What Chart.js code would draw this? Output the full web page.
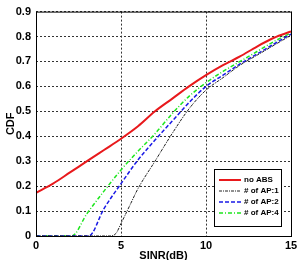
<!DOCTYPE html>
<html>
<head>
<meta charset="UTF-8">
<title>CDF of SINR</title>
<script src="https://cdn.jsdelivr.net/npm/chart.js"></script>
<style>
  body { margin: 0; background: #fff; }
</style>
</head>
<body>
<canvas id="cdfChart" width="301" height="260"></canvas>
<script>
// values
const seriesNames = ['no ABS', '# of AP:1', '# of AP:2', '# of AP:4'];

const sinrNoAbs = [0, 1, 2, 3, 4, 5, 6, 7, 8, 9, 10, 11, 12, 13, 14, 15];
const cdfNoAbs = [0.173, 0.21, 0.255, 0.3, 0.345, 0.39, 0.44, 0.5, 0.55, 0.6, 0.645, 0.685, 0.72, 0.76, 0.795, 0.82];

const sinrAp1 = [0, 4.3, 4.7, 5, 5.5, 6, 7, 8, 9, 10, 11, 12, 13, 14, 15];
const cdfAp1 = [0, 0, 0.01, 0.05, 0.12, 0.19, 0.3, 0.41, 0.51, 0.585, 0.635, 0.685, 0.725, 0.765, 0.805];

const sinrAp2 = [0, 3.1, 4, 5, 6, 7, 8, 9, 10, 11, 12, 13, 14, 15];
const cdfAp2 = [0, 0, 0.11, 0.21, 0.305, 0.385, 0.46, 0.535, 0.6, 0.645, 0.69, 0.73, 0.77, 0.81];

const sinrAp4 = [0, 2.1, 3, 4, 5, 6, 7, 8, 9, 10, 11, 12, 13, 14, 15];
const cdfAp4 = [0, 0, 0.09, 0.18, 0.265, 0.34, 0.41, 0.49, 0.56, 0.615, 0.66, 0.7, 0.74, 0.78, 0.815];

const xTicks = [0, 5, 10, 15];
const yTicks = [0, 0.1, 0.2, 0.3, 0.4, 0.5, 0.6, 0.7, 0.8, 0.9];

function pts(xs, ys) {
    return xs.map((x, i) => ({ x: x, y: ys[i] }));
}

// box around the plot + legend inside it
const boxAndLegend = {
    id: 'boxAndLegend',
    afterDraw(chart) {
        const ctx = chart.ctx;
        const a = chart.chartArea;
        ctx.save();
        ctx.strokeStyle = '#000';
        ctx.lineWidth = 1;
        ctx.setLineDash([]);
        ctx.strokeRect(a.left + 0.5, a.top + 0.5, a.right - a.left, a.bottom - a.top);

        const lx = 214, ly = 169, lw = 67, lh = 57;
        ctx.fillStyle = '#fff';
        ctx.fillRect(lx, ly, lw, lh);
        ctx.strokeRect(lx + 0.5, ly + 0.5, lw, lh);
        ctx.font = 'bold 8px "Liberation Sans", Arial, sans-serif';
        ctx.textBaseline = 'middle';
        chart.data.datasets.forEach((ds, i) => {
            const y = 180 + i * 11;
            ctx.strokeStyle = ds.borderColor;
            ctx.lineWidth = ds.borderWidth;
            ctx.setLineDash(ds.borderDash || []);
            ctx.beginPath();
            ctx.moveTo(219, y);
            ctx.lineTo(241, y);
            ctx.stroke();
            ctx.fillStyle = '#000';
            ctx.fillText(ds.label, 244, y);
        });
        ctx.restore();
    }
};

const font = { family: '"Liberation Sans", Arial, sans-serif', size: 11, weight: 'bold' };

const ctx = document.getElementById('cdfChart').getContext('2d');
new Chart(ctx, {
    type: 'line',
    data: {
        datasets: [
            { label: seriesNames[0], data: pts(sinrNoAbs, cdfNoAbs), borderColor: '#e8191c', borderWidth: 2 },
            { label: seriesNames[1], data: pts(sinrAp1, cdfAp1), borderColor: '#222', borderWidth: 1, borderDash: [3, 1, 1, 1] },
            { label: seriesNames[2], data: pts(sinrAp2, cdfAp2), borderColor: '#1a1ae6', borderWidth: 1.5, borderDash: [4, 2] },
            { label: seriesNames[3], data: pts(sinrAp4, cdfAp4), borderColor: '#1ee61e', borderWidth: 1.5, borderDash: [4, 2, 1, 2] }
        ]
    },
    options: {
        responsive: false,
        animation: false,
        devicePixelRatio: 1,
        layout: { padding: { top: 7, right: 10, left: 0, bottom: 0 } },
        elements: { point: { radius: 0 }, line: { cubicInterpolationMode: 'monotone', fill: false } },
        plugins: { legend: { display: false }, tooltip: { enabled: false } },
        scales: {
            x: {
                type: 'linear',
                min: 0, max: 15,
                afterBuildTicks: s => { s.ticks = xTicks.map(v => ({ value: v })); },
                afterFit: s => { s.height = 24; },
                grid: { color: '#333', drawTicks: false, lineWidth: 1 },
                border: { display: false, dash: [2, 2] },
                ticks: { color: '#000', padding: 3, autoSkip: false, maxRotation: 0, font: font },
                title: { display: true, text: 'SINR(dB)', color: '#000', padding: { top: 0, bottom: -3 }, font: font }
            },
            y: {
                min: 0, max: 0.9,
                afterBuildTicks: s => { s.ticks = yTicks.map(v => ({ value: v })); },
                afterFit: s => { s.width = 36; },
                grid: { color: '#333', drawTicks: false, lineWidth: 1 },
                border: { display: false, dash: [2, 2] },
                ticks: { color: '#000', padding: 5, autoSkip: false, font: font },
                title: { display: true, text: 'CDF', color: '#000', padding: 4, font: font }
            }
        }
    },
    plugins: [boxAndLegend]
});
</script>
</body>
</html>
